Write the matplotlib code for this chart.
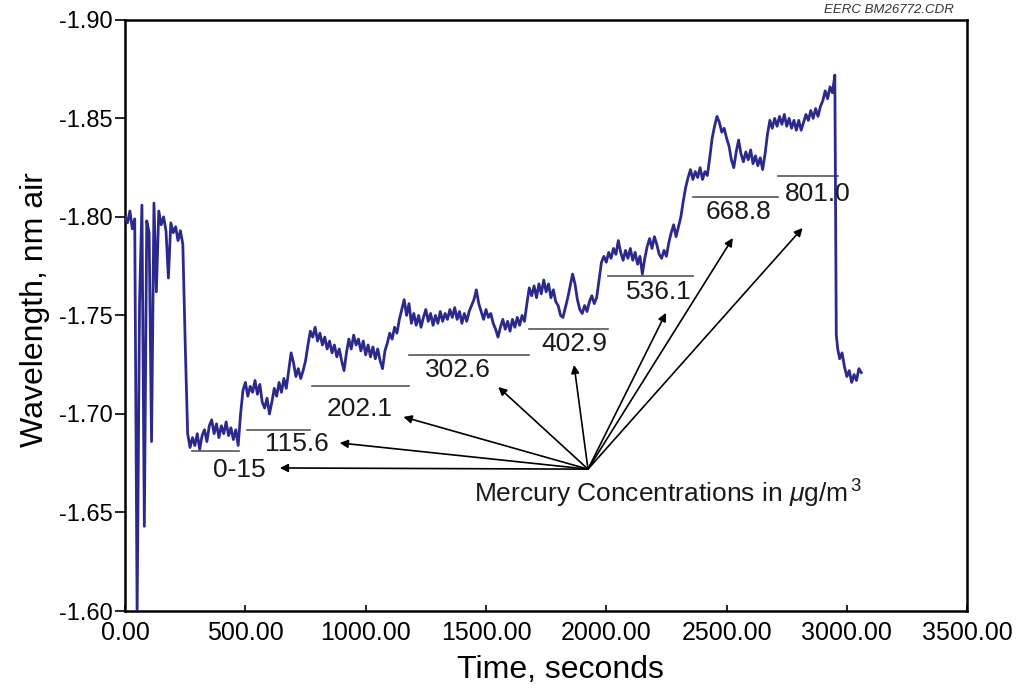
import matplotlib
matplotlib.use("Agg")
import matplotlib.pyplot as plt

plt.rcParams['font.family'] = ['Liberation Sans', 'DejaVu Sans']
plt.rcParams['axes.unicode_minus'] = False
plt.rcParams['mathtext.fontset'] = 'custom'
plt.rcParams['mathtext.rm'] = 'Liberation Sans'
plt.rcParams['mathtext.it'] = 'Liberation Sans:italic'

# Traza de longitud de onda (muestras cada 10 s hasta 2950 s)
time_main = list(range(0, 2951, 10))
wavelength_main = [
    -1.800, -1.797, -1.803, -1.794, -1.799, -1.598, -1.756, -1.806, -1.643, -1.798,
    -1.792, -1.686, -1.807, -1.762, -1.803, -1.796, -1.800, -1.793, -1.769, -1.797,
    -1.792, -1.795, -1.788, -1.793, -1.786, -1.735, -1.690, -1.683, -1.688, -1.684,
    -1.690, -1.682, -1.689, -1.692, -1.686, -1.694, -1.697, -1.690, -1.695, -1.688,
    -1.694, -1.690, -1.696, -1.689, -1.693, -1.687, -1.692, -1.684, -1.700, -1.712,
    -1.716, -1.709, -1.714, -1.711, -1.717, -1.710, -1.715, -1.706, -1.703, -1.708,
    -1.700, -1.706, -1.713, -1.709, -1.716, -1.711, -1.718, -1.713, -1.722, -1.731,
    -1.726, -1.719, -1.723, -1.718, -1.722, -1.727, -1.735, -1.742, -1.739, -1.744,
    -1.737, -1.741, -1.735, -1.739, -1.733, -1.737, -1.731, -1.735, -1.729, -1.733,
    -1.727, -1.722, -1.731, -1.738, -1.733, -1.740, -1.735, -1.738, -1.732, -1.737,
    -1.730, -1.735, -1.729, -1.734, -1.728, -1.733, -1.727, -1.723, -1.732, -1.736,
    -1.741, -1.738, -1.744, -1.741, -1.748, -1.753, -1.758, -1.750, -1.756, -1.746,
    -1.751, -1.745, -1.750, -1.744, -1.749, -1.753, -1.747, -1.751, -1.745, -1.750,
    -1.746, -1.752, -1.747, -1.751, -1.748, -1.753, -1.749, -1.754, -1.748, -1.752,
    -1.746, -1.751, -1.747, -1.752, -1.755, -1.758, -1.763, -1.756, -1.752, -1.748,
    -1.753, -1.749, -1.751, -1.746, -1.743, -1.739, -1.744, -1.748, -1.743, -1.747,
    -1.742, -1.748, -1.744, -1.749, -1.745, -1.750, -1.747, -1.756, -1.764, -1.760,
    -1.765, -1.759, -1.766, -1.761, -1.768, -1.762, -1.766, -1.759, -1.763, -1.757,
    -1.755, -1.750, -1.749, -1.754, -1.759, -1.765, -1.771, -1.766, -1.758, -1.753,
    -1.751, -1.755, -1.752, -1.757, -1.760, -1.756, -1.759, -1.768, -1.777, -1.780,
    -1.777, -1.782, -1.779, -1.784, -1.781, -1.788, -1.782, -1.778, -1.783, -1.779,
    -1.784, -1.778, -1.782, -1.776, -1.780, -1.771, -1.779, -1.785, -1.789, -1.784,
    -1.790, -1.786, -1.781, -1.779, -1.783, -1.780, -1.787, -1.792, -1.796, -1.790,
    -1.795, -1.800, -1.808, -1.815, -1.820, -1.824, -1.819, -1.823, -1.820, -1.825,
    -1.819, -1.823, -1.821, -1.830, -1.840, -1.846, -1.851, -1.848, -1.843, -1.845,
    -1.840, -1.836, -1.829, -1.825, -1.833, -1.839, -1.832, -1.828, -1.833, -1.829,
    -1.834, -1.827, -1.831, -1.826, -1.830, -1.824, -1.832, -1.842, -1.849, -1.845,
    -1.850, -1.846, -1.851, -1.847, -1.852, -1.846, -1.850, -1.845, -1.849, -1.844,
    -1.849, -1.844, -1.848, -1.852, -1.849, -1.854, -1.850, -1.855, -1.851, -1.856,
    -1.859, -1.864, -1.860, -1.866, -1.863, -1.872,
]
# caída final
time_tail = [2956, 2962, 2970, 2980, 2990, 3000, 3010, 3020, 3030, 3040, 3050, 3060]
wavelength_tail = [-1.740, -1.733, -1.728, -1.731, -1.724, -1.719,
                   -1.722, -1.716, -1.720, -1.717, -1.723, -1.721]

# niveles de concentración de mercurio
conc_labels = ["0-15", "115.6", "202.1", "302.6", "402.9", "536.1", "668.8", "801.0"]
level_start = [278, 506, 775, 1182, 1680, 2007, 2360, 2712]
level_end = [473, 767, 1182, 1680, 2007, 2360, 2712, 2965]
level_value = [-1.681, -1.692, -1.714, -1.730, -1.743, -1.770, -1.810, -1.821]

# posiciones de etiquetas y puntas de flecha (coordenadas de datos)
label_x = [473, 715, 975, 1385, 1866, 2219, 2550, 2878]
label_y = [-1.6716, -1.6848, -1.7025, -1.7223, -1.7355, -1.762, -1.8025, -1.8115]
arrow_x = [643, 892, 1157, 1551, 1866, 2248, 2526, 2816]
arrow_y = [-1.6726, -1.6853, -1.6985, -1.7137, -1.7249, -1.7513, -1.7893, -1.7944]
origen = (1924, -1.672)

time_s = time_main + time_tail
wavelength = wavelength_main + wavelength_tail

fig = plt.figure(figsize=(10.17, 6.85), dpi=100)
ax = fig.add_axes([0.123, 0.108, 0.828, 0.863])

ax.plot(time_s, wavelength, color='#2b2a8c', lw=2.0, zorder=3)

for x0, x1, y in zip(level_start, level_end, level_value):
    ax.plot([x0, x1], [y, y], color='#555555', lw=1.2, zorder=2)

for lab, lx, ly in zip(conc_labels, label_x, label_y):
    ax.text(lx, ly, lab, fontsize=19, ha='center', va='center', color='#1a1a1a')

for ax_, ay_ in zip(arrow_x, arrow_y):
    ax.annotate("", xy=(ax_, ay_), xytext=origen,
                arrowprops=dict(arrowstyle='-|>', color='black', lw=1.2,
                                mutation_scale=12, shrinkA=0, shrinkB=0))

ax.text(2256, -1.6595, "Mercury Concentrations in $\\mu$g/m$^{\\,3}$", fontsize=19,
        ha='center', va='center', color='#1a1a1a')

ax.set_xlim(0, 3500)
ax.set_ylim(-1.60, -1.90)
ax.set_xticks([0, 500, 1000, 1500, 2000, 2500, 3000, 3500])
ax.set_xticklabels([f"{v:.2f}" for v in ax.get_xticks()])
ax.set_yticks([-1.60, -1.65, -1.70, -1.75, -1.80, -1.85, -1.90])
ax.set_yticklabels([f"{v:.2f}" for v in ax.get_yticks()])
ax.tick_params(axis='x', direction='in', length=4, width=1.2, labelsize=18, pad=7)
ax.tick_params(axis='y', direction='out', length=7, width=1.2, labelsize=17, pad=2)
for s in ax.spines.values():
    s.set_linewidth(1.8)

ax.set_xlabel("Time, seconds", fontsize=23)
ax.set_ylabel("Wavelength, nm air", fontsize=23)
ax.xaxis.set_label_coords(0.517, -0.075)
ax.yaxis.set_label_coords(-0.089, 0.51)

fig.text(0.938, 0.985, "EERC BM26772.CDR", fontsize=9.5, style='italic',
         ha='right', va='center', color='#333333')

plt.savefig("out.png", dpi=100)
